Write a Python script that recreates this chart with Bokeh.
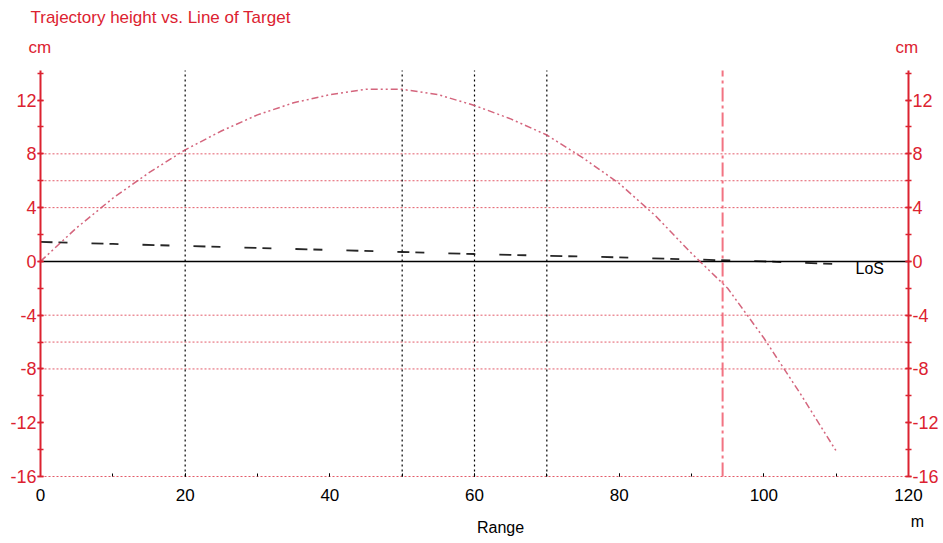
from bokeh.plotting import figure
from bokeh.models import Range1d, LinearAxis, FixedTicker, NumeralTickFormatter
from bokeh.core.properties import value
from bokeh.embed import file_html
from bokeh.resources import INLINE

# ---- data ----
traj_range = [0, 5, 10, 15, 20, 25, 30, 35, 40, 45, 50, 55, 60, 65, 70, 75, 80, 85, 90, 95, 100, 105, 110]
traj_height = [0, 2.5, 4.7, 6.6, 8.3, 9.7, 10.9, 11.8, 12.4, 12.8, 12.8, 12.4, 11.6, 10.6, 9.4, 7.7, 5.8, 3.4, 0.6, -2.0, -5.7, -9.8, -14.1]

sight_range = [0, 10, 20, 30, 40, 50, 60, 70, 80, 90, 100, 110]
sight_height = [1.45, 1.3, 1.15, 1.0, 0.85, 0.7, 0.55, 0.42, 0.3, 0.15, 0.0, -0.2]

x_ticks = [0, 20, 40, 60, 80, 100, 120]
x_minor = [0, 10, 20, 30, 40, 50, 60, 70, 80, 90, 100, 110, 120]
y_ticks = [-16, -12, -8, -4, 0, 4, 8, 12]
y_minor = [-16, -14, -12, -10, -8, -6, -4, -2, 0, 2, 4, 6, 8, 10, 12, 14]
x_bounds = (0, 120)
y_bounds = (-16, 14.2)
red_grid_y = [8, 6, 4, -4, -6, -8, -16]
black_grid_x = [20, 50, 60, 70]
target_x = [94.3]
los_y = [0]

title_text = "Trajectory height vs. Line of Target"
unit_y = "cm"
unit_x = "m"
x_title = "Range"
los_text = "LoS"

RED = "#dc2230"
FONT = "Liberation Sans"

# ---- geometry: frame covers the whole canvas, axes sit at fixed data locations ----
W, H = 940, 540
LEFT_PX, RIGHT_PX = 40, 908
TOP_PX, BOTTOM_PX = 70, 476
sx = (RIGHT_PX - LEFT_PX) / (x_bounds[1] - x_bounds[0])
sy = (BOTTOM_PX - TOP_PX) / (y_bounds[1] - y_bounds[0])
X0 = x_bounds[0] - LEFT_PX / sx
X1 = x_bounds[0] + (W - LEFT_PX) / sx
Y1 = y_bounds[1] + TOP_PX / sy
Y0 = y_bounds[0] - (H - BOTTOM_PX) / sy

def px_x(px):
    return x_bounds[0] + (px - LEFT_PX) / sx

def px_y(py):
    return y_bounds[1] - (py - TOP_PX) / sy

p = figure(frame_width=W, frame_height=H,
           x_range=Range1d(X0, X1), y_range=Range1d(Y0, Y1),
           x_axis_type=None, y_axis_type=None,
           output_backend="svg", toolbar_location=None, min_border=0)
p.grid.visible = False
p.outline_line_color = None
p.background_fill_color = "white"
p.border_fill_color = "white"

# x axis along the -16 line
xa = LinearAxis(fixed_location=y_bounds[0], bounds=x_bounds,
                ticker=FixedTicker(ticks=x_ticks, minor_ticks=x_minor))
xa.axis_line_color = None
xa.major_tick_in = 3
xa.major_tick_out = 0
xa.minor_tick_in = 3
xa.minor_tick_out = 0
xa.major_tick_line_color = "black"
xa.minor_tick_line_color = "black"
xa.major_label_standoff = 12
xa.major_label_text_font = FONT
xa.major_label_text_font_size = "17px"
xa.major_label_text_color = "black"
p.add_layout(xa, "below")

def make_y(loc, size, out):
    ax = LinearAxis(fixed_location=loc, bounds=y_bounds,
                    ticker=FixedTicker(ticks=y_ticks, minor_ticks=y_minor),
                    formatter=NumeralTickFormatter(format="0"))
    ax.axis_line_color = RED
    ax.axis_line_width = 2
    ax.major_tick_line_color = RED
    ax.minor_tick_line_color = RED
    ax.major_tick_in = 3
    ax.major_tick_out = out
    ax.minor_tick_in = 3
    ax.minor_tick_out = out
    ax.major_tick_line_width = 1.5
    ax.minor_tick_line_width = 1.5
    ax.major_label_standoff = 1
    ax.major_label_text_font = FONT
    ax.major_label_text_font_size = size
    ax.major_label_text_color = RED
    return ax

p.add_layout(make_y(x_bounds[0], "18px", 3), "left")
p.add_layout(make_y(x_bounds[1], "18px", 3), "right")

# grid lines (limited to the plotting box)
n = len(red_grid_y)
p.segment(x0=[x_bounds[0]] * n, x1=[x_bounds[1]] * n, y0=red_grid_y, y1=red_grid_y,
          line_color="#e04a5a", line_width=1, line_dash="2 2", line_alpha=0.9)
m = len(black_grid_x)
p.segment(x0=black_grid_x, x1=black_grid_x, y0=[y_bounds[0]] * m, y1=[y_bounds[1]] * m,
          line_color="black", line_width=1.2, line_dash="2 3")
p.segment(x0=[x_bounds[0]], x1=[x_bounds[1]], y0=los_y, y1=los_y,
          line_color="black", line_width=1.5)
p.segment(x0=target_x, x1=target_x, y0=[y_bounds[0]], y1=[y_bounds[1]],
          line_color="#f05a6c", line_width=2, line_dash="14 4 3 4", line_alpha=0.85)

# series
p.line(sight_range, sight_height, line_color="black", line_width=1.8,
       line_dash="12 6 9 24", line_alpha=0.85)
p.line(traj_range, traj_height, line_color="#cc4a66", line_width=1.5,
       line_dash="7 3 2 3 2 3", line_alpha=0.85)

# texts
def txt(px, py, s, color, size, align="left"):
    p.text(x=[px_x(px)], y=[px_y(py)], text=[s], text_font=value(FONT),
           text_font_size=size, text_color=color, text_baseline="middle", text_align=align)

txt(855, 268, los_text, "black", "16px")
txt(30, 17, title_text, RED, "17px")
txt(28, 47, unit_y, RED, "17px")
txt(895, 47, unit_y, RED, "17px")
txt(500, 527, x_title, "black", "16px", "center")
txt(917, 521, unit_x, "black", "16px", "center")

open("out.html", "w").write(file_html(p, INLINE))
